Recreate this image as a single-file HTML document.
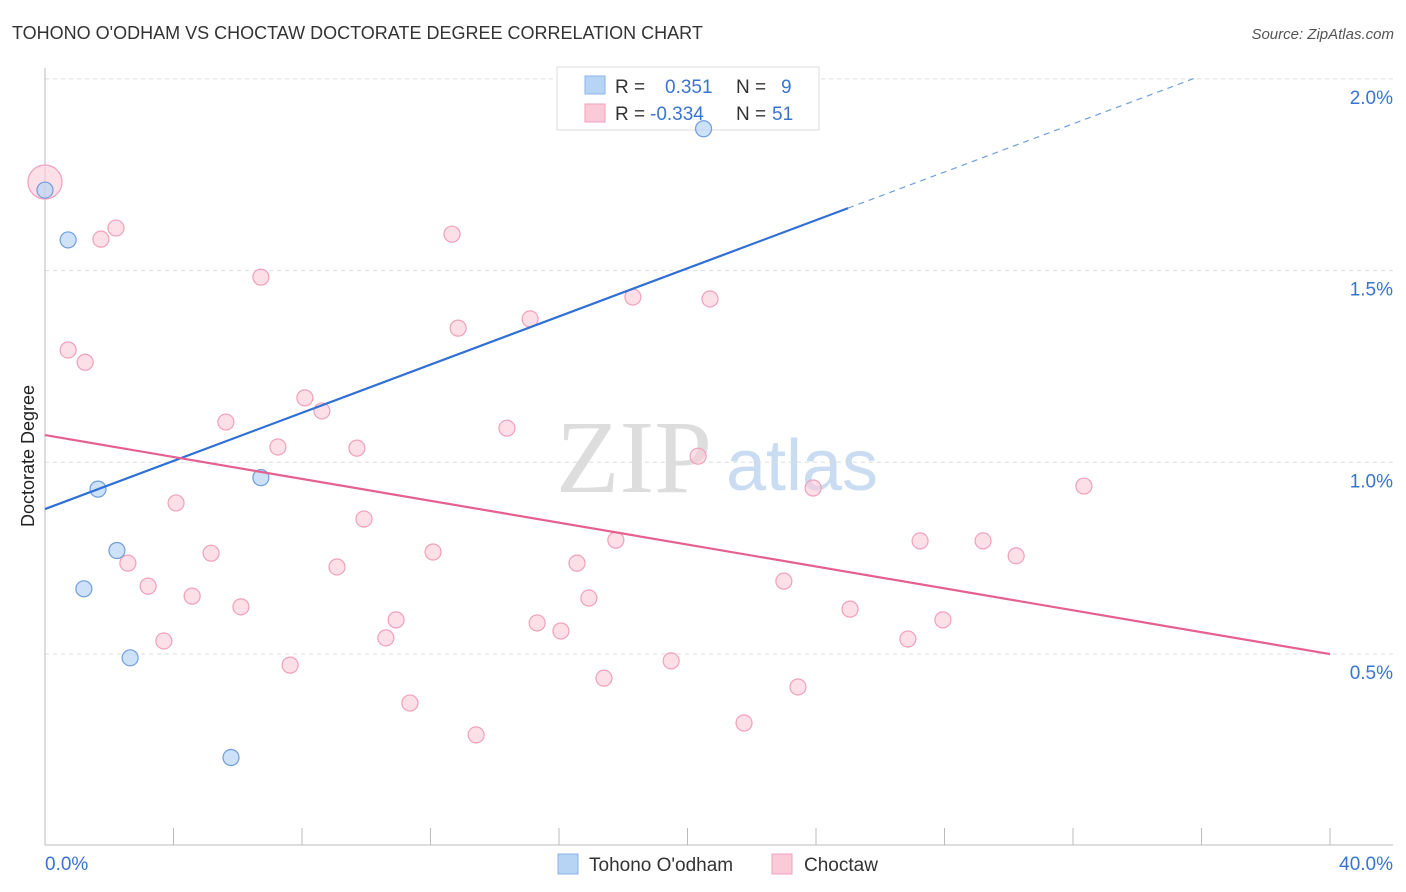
<!DOCTYPE html>
<html><head><meta charset="utf-8">
<style>
body{margin:0;background:#fff;font-family:"Liberation Sans",sans-serif;}
#wrap{position:relative;width:1406px;height:892px;overflow:hidden;}
</style></head>
<body>
<div id="wrap">
<svg id="chart" width="1406" height="892" xmlns="http://www.w3.org/2000/svg">
<text x="12" y="39" font-size="18" fill="#333">TOHONO O'ODHAM VS CHOCTAW DOCTORATE DEGREE CORRELATION CHART</text>
<text x="1394" y="39" font-size="15" fill="#555" text-anchor="end" font-style="italic">Source: ZipAtlas.com</text>
<text x="634" y="492" font-size="104" fill="#ddd" font-family="Liberation Serif, serif" text-anchor="middle">ZIP</text>
<text x="802" y="490" font-size="72" fill="#c9dcf2" text-anchor="middle">atlas</text>
<g id="grid"></g>
<g id="axes"></g>
<g>
<rect x="557" y="67" width="262" height="63" fill="#fff" stroke="#ddd"/>
<rect x="585" y="76" width="20" height="18" fill="#b8d4f5" stroke="#8ab3e6"/>
<rect x="585" y="104" width="20" height="18" fill="#fbcad8" stroke="#f0a0ba"/>
<text x="615" y="93" font-size="19" fill="#333">R = </text><text x="665" y="93" font-size="19" fill="#3a73d0">0.351</text>
<text x="736" y="93" font-size="19" fill="#333">N = </text><text x="781" y="93" font-size="19" fill="#3a73d0">9</text>
<text x="615" y="120" font-size="19" fill="#333">R = </text><text x="650" y="120" font-size="19" fill="#3a73d0">-0.334</text>
<text x="736" y="120" font-size="19" fill="#333">N = </text><text x="772" y="120" font-size="19" fill="#3a73d0">51</text>
</g>
<g id="pts"></g>
<g id="lines"></g>
<text transform="translate(34,456) rotate(-90)" font-size="18" fill="#222" text-anchor="middle">Doctorate Degree</text>
<g>
<rect x="558" y="854" width="20" height="20" fill="#b8d4f5" stroke="#8ab3e6"/>
<text x="589" y="871" font-size="19" fill="#333">Tohono O'odham</text>
<rect x="772" y="854" width="20" height="20" fill="#fbcad8" stroke="#f0a0ba"/>
<text x="804" y="871" font-size="19" fill="#333">Choctaw</text>
</g>
</svg>
</div>
<script>
const blueX=[0,0.72,1.65,2.24,1.21,2.65,5.79,6.72,20.5];
const blueY=[1.71,1.58,0.93,0.77,0.67,0.49,0.23,0.96,1.87];
const pinkX=[0,2.21,1.74,12.67,6.72,0.72,1.25,12.86,15.10,18.30,20.70,8.09,8.62,5.63,14.38,7.25,9.71,20.33,4.08,9.93,23.91,32.34,17.77,27.24,29.20,30.23,5.17,12.08,2.58,9.09,16.56,3.21,4.58,23.00,6.10,16.93,25.06,10.93,15.32,16.06,27.95,10.61,3.70,26.86,19.49,7.63,17.40,23.44,11.36,21.76,13.42];
const pinkY=[1.731,1.611,1.582,1.595,1.483,1.293,1.261,1.350,1.374,1.431,1.426,1.168,1.134,1.105,1.089,1.040,1.037,1.016,0.894,0.852,0.933,0.938,0.797,0.795,0.795,0.756,0.763,0.766,0.737,0.727,0.737,0.677,0.651,0.690,0.623,0.646,0.617,0.589,0.581,0.560,0.589,0.542,0.534,0.539,0.482,0.471,0.437,0.414,0.372,0.320,0.289];
const yTicks=[0.5,1.0,1.5,2.0];
const yTickLabels=["0.5%","1.0%","1.5%","2.0%"];
const xTicks=[0,4,8,12,16,20,24,28,32,36,40];
const xEndLabels=["0.0%","40.0%"];
const blueTrend=[0.878,0.0314];
const pinkTrend=[1.071,-0.01428];
const blueSolidEnd=25.0, blueDashEnd=35.8;

const X0=45,X1=1330,Y0=845.7,YK=383.4;
const sx=v=>X0+v/40*(X1-X0);
const sy=v=>Y0-v*YK;
const NS="http://www.w3.org/2000/svg";
function mk(tag,attrs,parent){const e=document.createElementNS(NS,tag);for(const k in attrs)e.setAttribute(k,attrs[k]);document.getElementById(parent).appendChild(e);return e;}

yTicks.forEach((t,i)=>{
  const l=mk('line',{x1:45,x2:1393,y1:sy(t),y2:sy(t),stroke:'#ddd','stroke-dasharray':'4,4'},'grid');
  
  
  const tx=mk('text',{x:1393,y:sy(t)+25,'font-size':19,fill:'#3a73d0','text-anchor':'end'},'grid');
  tx.textContent=yTickLabels[i];
  
  
});
let ax=mk('line',{x1:45,x2:45,y1:68,y2:845,stroke:'#bbb'},'axes');


ax=mk('line',{x1:45,x2:1393,y1:845,y2:845,stroke:'#bbb'},'axes');


xTicks.forEach(t=>{
  const l=mk('line',{x1:sx(t),x2:sx(t),y1:828,y2:845,stroke:'#bbb'},'axes');
  
  
});
let t1=mk('text',{x:45,y:870,'font-size':19,fill:'#3a73d0'},'axes');t1.textContent=xEndLabels[0];


let t2=mk('text',{x:1393,y:870,'font-size':19,fill:'#3a73d0','text-anchor':'end'},'axes');t2.textContent=xEndLabels[1];



pinkX.forEach((x,i)=>{
  const c=mk('circle',{cx:sx(x),cy:sy(pinkY[i]),r:i===0?17:8,fill:'#fbcad8','fill-opacity':0.6,stroke:'#f0a0ba','stroke-width':1.2},'pts');
  
  
});
blueX.forEach((x,i)=>{
  const c=mk('circle',{cx:sx(x),cy:sy(blueY[i]),r:8,fill:'#b8d4f5','fill-opacity':0.7,stroke:'#6f9fdc','stroke-width':1.2},'pts');
  
  
});
const bf=x=>blueTrend[0]+blueTrend[1]*x, pf=x=>pinkTrend[0]+pinkTrend[1]*x;
let bl=mk('line',{x1:sx(0),y1:sy(bf(0)),x2:sx(blueSolidEnd),y2:sy(bf(blueSolidEnd)),stroke:'#2f6fd6','stroke-width':2.2},'lines');


let bd=mk('line',{x1:sx(blueSolidEnd),y1:sy(bf(blueSolidEnd)),x2:sx(blueDashEnd),y2:sy(bf(blueDashEnd)),stroke:'#6f9fdc','stroke-width':1.2,'stroke-dasharray':'6,5'},'lines');


let pl=mk('line',{x1:sx(0),y1:sy(pf(0)),x2:sx(40),y2:sy(pf(40)),stroke:'#e5608e','stroke-width':2.2},'lines');


</script>
</body></html>
